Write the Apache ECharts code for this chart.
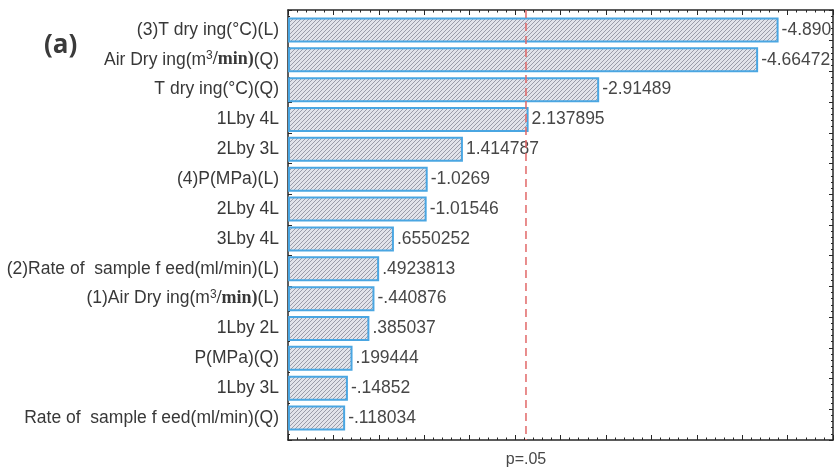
<!DOCTYPE html>
<html><head><meta charset="utf-8">
<script src="https://cdn.jsdelivr.net/npm/echarts@6/dist/echarts.min.js"></script>
<style>html,body{margin:0;padding:0;background:#fff}#c{width:836px;height:470px}</style>
</head><body><div id="c"></div>
<script>
// ---- data ----
const categories = [
  '(3)T dry ing(°C)(L)',
  'Air Dry ing(m³/min)(Q)',
  'T dry ing(°C)(Q)',
  '1Lby 4L',
  '2Lby 3L',
  '(4)P(MPa)(L)',
  '2Lby 4L',
  '3Lby 4L',
  '(2)Rate of  sample f eed(ml/min)(L)',
  '(1)Air Dry ing(m³/min)(L)',
  '1Lby 2L',
  'P(MPa)(Q)',
  '1Lby 3L',
  'Rate of  sample f eed(ml/min)(Q)'
];
const effects = [-4.890, -4.66472, -2.91489, 2.137895, 1.414787, -1.0269, -1.01546,
                 0.6550252, 0.4923813, -0.440876, 0.385037, 0.199444, -0.14852, -0.118034];
const effectLabels = ['-4.890', '-4.66472', '-2.91489', '2.137895', '1.414787', '-1.0269', '-1.01546',
                      '.6550252', '.4923813', '-.440876', '.385037', '.199444', '-.14852', '-.118034'];
const criticalValue = 2.12;
const criticalLabel = 'p=.05';
const axisMin = -0.5, axisMax = 5.5, axisStep = 0.5;

// ---- hatch pattern ----
function makeHatch() {
  const s = 4;
  const c = document.createElement('canvas');
  c.width = s; c.height = s;
  const g = c.getContext('2d');
  g.fillStyle = '#e2e3ea';
  g.fillRect(0, 0, s, s);
  g.strokeStyle = '#9a9ca9';
  g.lineWidth = 1;
  g.beginPath();
  g.moveTo(0, s); g.lineTo(s, 0);
  g.moveTo(-s / 2, s / 2); g.lineTo(s / 2, -s / 2);
  g.moveTo(s / 2, s * 1.5); g.lineTo(s * 1.5, s / 2);
  g.stroke();
  return c;
}
const hatch = makeHatch();

const FONT = '"Liberation Sans", Arial, sans-serif';
const chart = echarts.init(document.getElementById('c'), null, {renderer: 'canvas'});

const frameAxisLine = {show: true, onZero: false, lineStyle: {color: '#262626', width: 1.5}};
const frameTick = {show: true, inside: true, length: 5, lineStyle: {color: '#262626', width: 1}};
const frameMinor = {show: true, splitNumber: 5, length: 2.5, lineStyle: {color: '#262626', width: 1}};
const sideTick = {show: true, inside: true, length: 4, lineStyle: {color: '#262626'}};
const sideMinor = {show: true, splitNumber: 5, length: 2, lineStyle: {color: '#262626'}};

chart.setOption({
  animation: false,
  backgroundColor: '#fff',
  graphic: [{
    type: 'text', left: 44, top: 33,
    style: {text: '(a)', font: 'bold 26px "Open Sans", sans-serif', fill: '#3a3a3a'}
  }],
  grid: [
    {left: 288, right: 3, top: 10, bottom: 30},
    {left: 288, right: 3, top: 15, height: 418}
  ],
  xAxis: [
    {type: 'value', gridIndex: 0, position: 'bottom', min: axisMin, max: axisMax, interval: axisStep,
     axisLine: frameAxisLine, axisTick: frameTick, minorTick: frameMinor,
     axisLabel: {show: false}, splitLine: {show: false}},
    {type: 'value', gridIndex: 0, position: 'top', min: axisMin, max: axisMax, interval: axisStep,
     axisLine: frameAxisLine, axisTick: frameTick, minorTick: frameMinor,
     axisLabel: {show: false}, splitLine: {show: false}},
    {type: 'value', gridIndex: 1, min: axisMin, max: axisMax, show: false}
  ],
  yAxis: [
    {type: 'value', gridIndex: 0, position: 'left', min: 0, max: 14, interval: 1,
     axisLine: frameAxisLine, axisTick: sideTick, minorTick: sideMinor,
     axisLabel: {show: false}, splitLine: {show: false}},
    {type: 'value', gridIndex: 0, position: 'right', min: 0, max: 14, interval: 1,
     axisLine: frameAxisLine, axisTick: sideTick, minorTick: sideMinor,
     axisLabel: {show: false}, splitLine: {show: false}},
    {type: 'category', gridIndex: 1, data: categories, inverse: true,
     axisLine: {show: false}, axisTick: {show: false}, splitLine: {show: false},
     axisLabel: {
       margin: 9, fontSize: 17.5, fontFamily: FONT, color: '#383838',
       formatter: function (v) {
         return v.replace('m³/min)', 'm{sup|3}{b|/min)}');
       },
       rich: {
         sup: {fontSize: 12, fontFamily: FONT, color: '#383838', padding: [0, 0, 8, 0]},
         b: {fontSize: 18, fontFamily: '"Liberation Serif", serif', fontWeight: 'bold', color: '#383838'}
       }
     }}
  ],
  series: [
    {
      type: 'custom', xAxisIndex: 2, yAxisIndex: 2, clip: true,
      data: effects.map((v, i) => [Math.abs(v), i]),
      encode: {x: 0, y: 1},
      renderItem: function (params, api) {
        const v = api.value(0), idx = api.value(1);
        const start = api.coord([axisMin, idx]);
        const end = api.coord([v, idx]);
        const h = api.size([0, 1])[1] * 0.77;
        return {
          type: 'group',
          children: [
            {type: 'rect',
             shape: {x: start[0] + 1, y: start[1] - h / 2, width: end[0] - start[0] - 1, height: h},
             style: {fill: {image: hatch, repeat: 'repeat'}, stroke: '#4aa6e2', lineWidth: 2}},
            {type: 'text',
             style: {text: effectLabels[params.dataIndex], x: end[0] + 4, y: end[1],
                     verticalAlign: 'middle', align: 'left',
                     font: '17.5px ' + FONT, fill: '#474747'}}
          ]
        };
      }
    },
    {
      type: 'custom', xAxisIndex: 0, yAxisIndex: 0, clip: false, z: 5,
      data: [[criticalValue, 0]],
      renderItem: function (params, api) {
        const v = api.value(0);
        const top = api.coord([v, 14]);
        const bot = api.coord([v, 0]);
        return {
          type: 'group',
          children: [
            {type: 'line', shape: {x1: top[0], y1: top[1], x2: bot[0], y2: bot[1]},
             style: {stroke: '#e26868', lineWidth: 1.5, lineDash: [8, 5]}},
            {type: 'text',
             style: {text: criticalLabel, x: bot[0], y: bot[1] + 20, align: 'center', verticalAlign: 'middle',
                     font: '16px ' + FONT, fill: '#474747'}}
          ]
        };
      }
    }
  ]
});
</script>
</body></html>
